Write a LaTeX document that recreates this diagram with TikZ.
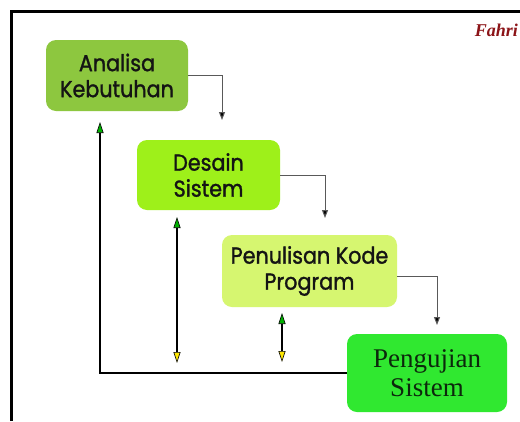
\documentclass[tikz,border=0pt]{standalone}
\usepackage{fontspec}
\setmainfont{Liberation Serif}
\newfontfamily\boxfont{Poppins}[FakeStretch=0.9, FakeBold=1.3]
\usetikzlibrary{arrows.meta}
\definecolor{analisaC}{RGB}{141,199,63}
\definecolor{desainC}{RGB}{158,240,26}
\definecolor{kodeC}{RGB}{214,246,112}
\definecolor{ujiC}{RGB}{48,232,48}
\definecolor{signC}{RGB}{140,20,24}
\definecolor{ujiText}{RGB}{12,40,12}
\tikzset{
  phase/.style={rounded corners=10pt, inner sep=2pt, align=center, text=black!92},
  sansphase/.style={phase, font=\boxfont\fontsize{23}{26}\selectfont},
  serifphase/.style={phase, font=\fontsize{27}{29}\selectfont, text=ujiText},
  flow/.style={draw=black!65, line width=1pt, -{Triangle[length=8pt,width=6pt,fill=black]}},
  loopback/.style={draw=black, line width=1.8pt, -{Triangle[length=11pt,width=7pt,fill=green!70!black, line width=0.6pt]}},
  iterate/.style={draw=black, line width=1.8pt,
    {Triangle[length=11pt,width=7pt,fill=green!70!black, line width=0.6pt]}-{Triangle[length=11pt,width=7pt,fill=yellow!90!orange, line width=0.6pt]}},
}
\begin{document}
\begin{tikzpicture}[x=1pt, y=-1pt]
  \useasboundingbox[fill=white] (0,0) rectangle (520,421);
  % outer frame, running off the right and bottom edges
  \draw[line width=3pt] (11,421) -- (11,11) -- (520,11);
  % signature
  \node[anchor=east, inner sep=0pt, text=signC, font=\bfseries\itshape\fontsize{18}{20}\selectfont] (sign) at (518,30) {Fahri};

  % phases
  \node[sansphase, fill=analisaC, minimum width=142pt, minimum height=71pt] (b1) at (117,75.5) {Analisa\\Kebutuhan};
  \node[sansphase, fill=desainC, minimum width=143pt, minimum height=70pt] (b2) at (208.5,175) {Desain\\Sistem};
  \node[sansphase, fill=kodeC, minimum width=175pt, minimum height=72pt] (b3) at (309.5,271) {Penulisan Kode\\Program};
  \node[serifphase, fill=ujiC, minimum width=160pt, minimum height=78pt] (b4) at (427,373) {Pengujian\\Sistem};

  % step-to-step connectors
  \coordinate (t1) at (222,120);
  \coordinate (t2) at (325,218);
  \coordinate (t3) at (437,325);
  \draw[flow] (b1.east) -| (t1);
  \draw[flow] (b2.east) -| (t2);
  \draw[flow] ([yshift=-5pt]b3.east) -| (t3);

  % feedback back to the first phase
  \coordinate (fb) at (100,122);
  \draw[loopback] (b4.west) -| (fb);

  % iteration arrows
  \coordinate (i1a) at (177,217);
  \coordinate (i1b) at (177,363);
  \coordinate (i2a) at (282,313);
  \coordinate (i2b) at (282,362);
  \draw[iterate] (i1a) -- (i1b);
  \draw[iterate] (i2a) -- (i2b);
\end{tikzpicture}
\end{document}
